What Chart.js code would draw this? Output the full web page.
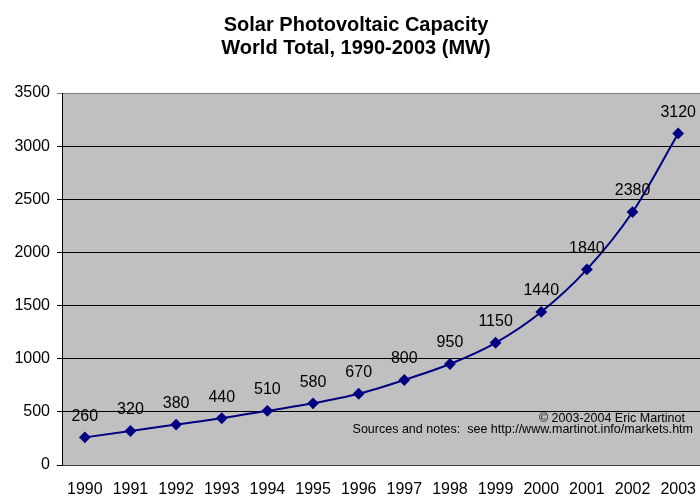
<!DOCTYPE html>
<html>
<head>
<meta charset="utf-8">
<script src="https://cdn.jsdelivr.net/npm/chart.js@4/dist/chart.umd.min.js"></script>
<style>
  html, body { margin: 0; padding: 0; background: #fff; overflow: hidden; }
  #wrap { width: 702px; height: 497px; }
</style>
</head>
<body>
<div id="wrap"><canvas id="c" width="702" height="497"></canvas></div>
<script>
const years = ['1990','1991','1992','1993','1994','1995','1996','1997','1998','1999','2000','2001','2002','2003'];
const capacityMW = [260, 320, 380, 440, 510, 580, 670, 800, 950, 1150, 1440, 1840, 2380, 3120];
const titleLines = ['Solar Photovoltaic Capacity', 'World Total, 1990-2003 (MW)'];
const noteLines = ['\u00A9 2003-2004 Eric Martinot', 'Sources and notes:  see http://www.martinot.info/markets.htm'];

const FONT = '"Liberation Sans", Arial, sans-serif';

// gray plot background
const plotBackground = {
  id: 'plotBackground',
  beforeDraw(chart) {
    const { ctx, chartArea: a } = chart;
    ctx.save();
    ctx.fillStyle = '#C0C0C0';
    ctx.fillRect(a.left, a.top, a.right - a.left, a.bottom - a.top);
    ctx.restore();
  }
};

// two-line heading above the plot
const heading = {
  id: 'heading',
  afterDraw(chart) {
    const { ctx } = chart;
    ctx.save();
    ctx.fillStyle = '#000';
    ctx.font = 'bold 20px ' + FONT;
    ctx.textAlign = 'center';
    ctx.textBaseline = 'middle';
    ctx.fillText(titleLines[0], 356, 25);
    ctx.fillText(titleLines[1], 356, 48);
    ctx.restore();
  }
};

// value labels above each point, plus the source note
const annotations = {
  id: 'annotations',
  afterDatasetsDraw(chart) {
    const { ctx, chartArea: a } = chart;
    const meta = chart.getDatasetMeta(0);
    ctx.save();
    ctx.fillStyle = '#000';
    ctx.font = '16px ' + FONT;
    ctx.textAlign = 'center';
    ctx.textBaseline = 'middle';
    meta.data.forEach((pt, i) => {
      ctx.fillText(String(capacityMW[i]), pt.x, pt.y - 21);
    });
    ctx.font = '12.5px ' + FONT;
    ctx.textAlign = 'right';
    ctx.fillText(noteLines[0], a.right - 16, a.bottom - 46);
    ctx.fillText(noteLines[1], a.right - 8, a.bottom - 35);
    ctx.restore();
  }
};

new Chart(document.getElementById('c'), {
  type: 'line',
  data: {
    labels: years,
    datasets: [{
      data: capacityMW,
      borderColor: '#000080',
      backgroundColor: '#000080',
      borderWidth: 2,
      cubicInterpolationMode: 'monotone',
      pointStyle: 'rectRot',
      pointRadius: 4.5,
      pointHoverRadius: 4.5,
      pointBackgroundColor: '#000080',
      pointBorderColor: '#000080',
      fill: false
    }]
  },
  options: {
    responsive: false,
    animation: false,
    events: [],
    layout: { autoPadding: false, padding: { top: 93, right: 1, bottom: 0, left: 0 } },
    plugins: {
      legend: { display: false },
      tooltip: { enabled: false },
      title: { display: false }
    },
    scales: {
      x: {
        offset: true,
        grid: { display: true, drawOnChartArea: false, drawTicks: true, tickLength: 11, color: 'rgba(0,0,0,0)' },
        border: { display: true, color: '#404040', width: 1 },
        ticks: { color: '#000', font: { family: FONT, size: 16 }, padding: 4, maxRotation: 0, autoSkip: false },
        afterFit(scale) { scale.height = 32; }
      },
      y: {
        min: 0,
        max: 3500,
        ticks: {
          stepSize: 500,
          color: '#000',
          font: { family: FONT, size: 16 },
          padding: 7,
          callback: (v) => String(v)
        },
        grid: {
          color: (c) => (c.tick && c.tick.value === 3500 ? '#808080' : '#000'),
          lineWidth: 1,
          tickLength: 5
        },
        border: { display: true, color: '#000', width: 1 },
        afterFit(scale) { scale.width = 62; }
      }
    }
  },
  plugins: [plotBackground, annotations, heading]
});
</script>
</body>
</html>
